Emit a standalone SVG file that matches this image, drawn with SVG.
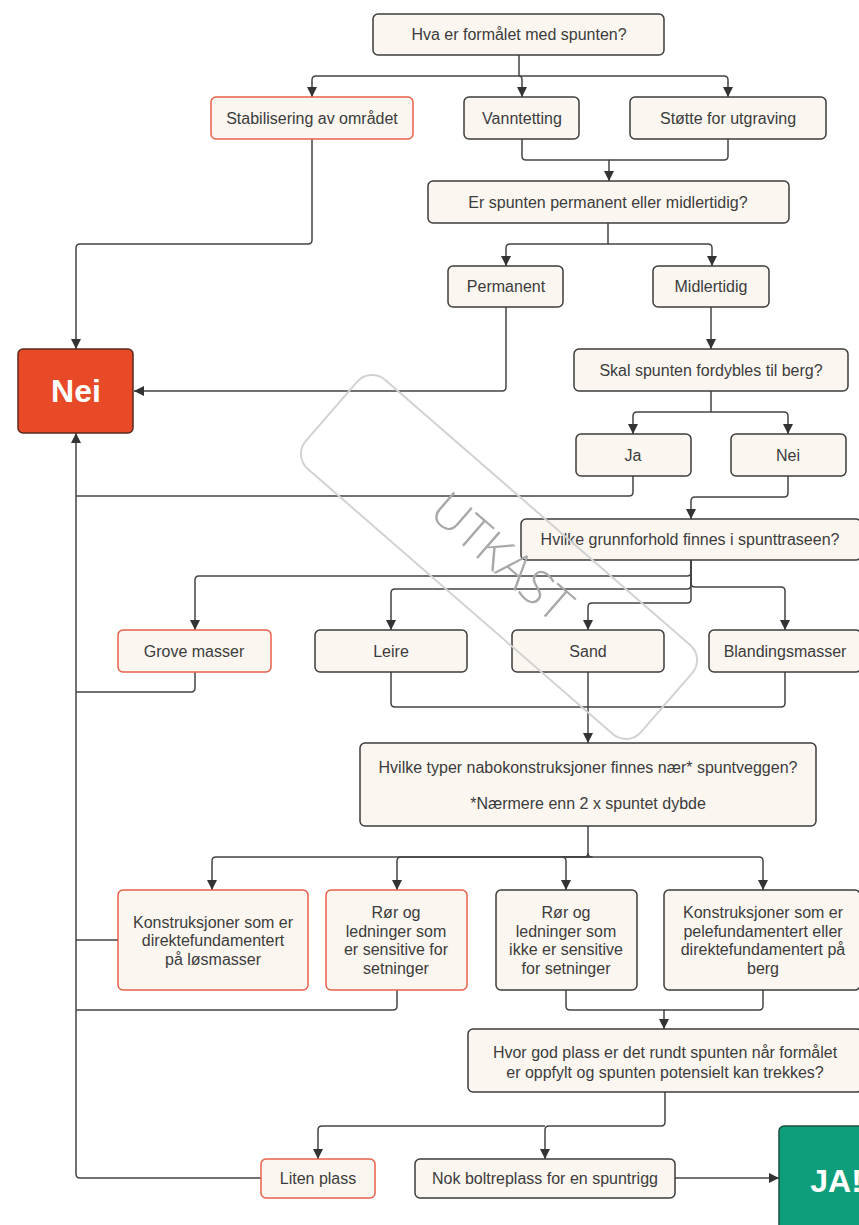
<svg xmlns="http://www.w3.org/2000/svg" width="859" height="1225" viewBox="0 0 859 1225">
<style>
.n rect{fill:#FBF6F0;stroke:#3d3d3d;stroke-width:1.5}
.n.r rect{stroke:#E8604A}
.n text{font-family:"Liberation Sans",Arial,sans-serif;font-size:16px;fill:#3c3c3c;text-anchor:middle}
.big text{font-family:"Liberation Sans",Arial,sans-serif;font-size:32px;font-weight:bold;fill:#fff;text-anchor:middle}
#edges path{fill:none;stroke:#444;stroke-width:1.5;stroke-linejoin:round}
.wm{fill:none;stroke:#d2d2d2;stroke-width:2}
.wmt{font-family:"Open Sans","Liberation Sans",sans-serif;font-weight:300;font-size:48px;fill:#a8a8a8;text-anchor:middle}
</style>
<defs>
<marker id="ah" viewBox="0 0 10 10" refX="10" refY="5" markerWidth="10" markerHeight="10" markerUnits="userSpaceOnUse" orient="auto">
<path d="M0,0 L10,5 L0,10 z" fill="#333"/>
</marker>
</defs>
<rect width="859" height="1225" fill="#fff"/>

<g id="edges">
<path d="M519,55 V76 H316 Q312,76 312,80 V97" marker-end="url(#ah)"/>
<path d="M519,76 Q522,76 522,80 V97" marker-end="url(#ah)"/>
<path d="M519,76 H724 Q728,76 728,80 V97" marker-end="url(#ah)"/>
<path d="M522,139 V156 Q522,160 526,160 H609 V181" marker-end="url(#ah)"/>
<path d="M728,139 V156 Q728,160 724,160 H609"/>
<path d="M608,223 V244 H510 Q506,244 506,248 V266" marker-end="url(#ah)"/>
<path d="M608,244 H708 Q712,244 712,248 V266" marker-end="url(#ah)"/>
<path d="M312,139 V240 Q312,244 308,244 H80 Q76,244 76,248 V349" marker-end="url(#ah)"/>
<path d="M506,307 V387 Q506,391 502,391 H134" marker-end="url(#ah)"/>
<path d="M711,307 V349" marker-end="url(#ah)"/>
<path d="M711,391 V412 H637 Q633,412 633,416 V434" marker-end="url(#ah)"/>
<path d="M711,412 H784 Q788,412 788,416 V434" marker-end="url(#ah)"/>
<path d="M633,476 V492 Q633,496 629,496 H76"/>
<path d="M788,476 V493 Q788,497 784,497 H695 Q691,497 691,501 V519" marker-end="url(#ah)"/>
<path d="M691,560 V572 Q691,576 687,576 H199 Q195,576 195,580 V630" marker-end="url(#ah)"/>
<path d="M691,560 V585 Q691,589 687,589 H395 Q391,589 391,593 V630" marker-end="url(#ah)"/>
<path d="M691,560 V599 Q691,603 687,603 H592 Q588,603 588,607 V630" marker-end="url(#ah)"/>
<path d="M691,560 V583 Q691,587 695,587 H781 Q785,587 785,591 V630" marker-end="url(#ah)"/>
<path d="M195,672 V688 Q195,692 191,692 H76"/>
<path d="M391,672 V703 Q391,707 395,707 H588"/>
<path d="M588,672 V743" marker-end="url(#ah)"/>
<path d="M785,672 V703 Q785,707 781,707 H588"/>
<path d="M588,826 V853 Q588,857 584,857 H216 Q212,857 212,861 V890" marker-end="url(#ah)"/>
<path d="M588,857 H401 Q397,857 397,861 V890" marker-end="url(#ah)"/>
<path d="M588,853 Q588,857 592,857 H562 Q566,857 566,861 V890" marker-end="url(#ah)"/>
<path d="M588,857 H759 Q763,857 763,861 V890" marker-end="url(#ah)"/>
<path d="M118,940 H76"/>
<path d="M397,990 V1006 Q397,1010 393,1010 H76"/>
<path d="M566,990 V1006 Q566,1010 570,1010 H664 V1029" marker-end="url(#ah)"/>
<path d="M763,990 V1006 Q763,1010 759,1010 H664"/>
<path d="M665,1092 V1122 Q665,1126 661,1126 H549 Q545,1126 545,1130 V1159" marker-end="url(#ah)"/>
<path d="M545,1126 H322 Q318,1126 318,1130 V1159" marker-end="url(#ah)"/>
<path d="M261,1178 H80 Q76,1178 76,1174 V433" marker-end="url(#ah)"/>
<path d="M675,1178 H779" marker-end="url(#ah)"/>
</g>

<g id="n_hva" class="n"><rect x="373" y="14" width="291" height="41" rx="5"/><text x="519" y="40">Hva er formålet med spunten?</text></g>
<g id="n_stab" class="n r"><rect x="211" y="97" width="202" height="42" rx="5"/><text x="312" y="124">Stabilisering av området</text></g>
<g id="n_vann" class="n"><rect x="464" y="97" width="115" height="42" rx="5"/><text x="522" y="124">Vanntetting</text></g>
<g id="n_stotte" class="n"><rect x="630" y="97" width="196" height="42" rx="5"/><text x="728" y="124">Støtte for utgraving</text></g>
<g id="n_perm_q" class="n"><rect x="428" y="181" width="361" height="42" rx="5"/><text x="608" y="208">Er spunten permanent eller midlertidig?</text></g>
<g id="n_perm" class="n"><rect x="448" y="266" width="115" height="41" rx="5"/><text x="506" y="292">Permanent</text></g>
<g id="n_midl" class="n"><rect x="653" y="266" width="116" height="41" rx="5"/><text x="711" y="292">Midlertidig</text></g>
<g id="n_nei" class="big"><rect x="18" y="349" width="115" height="84" rx="5" fill="#E84A27" stroke="#5a2a1e" stroke-width="1.5"/><text x="76" y="402">Nei</text></g>
<g id="n_skal" class="n"><rect x="574" y="349" width="274" height="42" rx="5"/><text x="711" y="376">Skal spunten fordybles til berg?</text></g>
<g id="n_ja" class="n"><rect x="576" y="434" width="115" height="42" rx="5"/><text x="633" y="461">Ja</text></g>
<g id="n_nei2" class="n"><rect x="731" y="434" width="115" height="42" rx="5"/><text x="788" y="461">Nei</text></g>
<g id="n_grunn" class="n"><rect x="521" y="519" width="340" height="41" rx="5"/><text x="690" y="545">Hvilke grunnforhold finnes i spunttraseen?</text></g>
<g id="n_grove" class="n r"><rect x="118" y="630" width="153" height="42" rx="5"/><text x="194" y="657">Grove masser</text></g>
<g id="n_leire" class="n"><rect x="315" y="630" width="152" height="42" rx="5"/><text x="391" y="657">Leire</text></g>
<g id="n_sand" class="n"><rect x="512" y="630" width="152" height="42" rx="5"/><text x="588" y="657">Sand</text></g>
<g id="n_bland" class="n"><rect x="709" y="630" width="152" height="42" rx="5"/><text x="785" y="657">Blandingsmasser</text></g>
<g id="n_nabo" class="n"><rect x="360" y="743" width="456" height="83" rx="5"/><text x="588" y="773">Hvilke typer nabokonstruksjoner finnes nær* spuntveggen?</text><text x="588" y="809">*Nærmere enn 2 x spuntet dybde</text></g>
<g id="n_kdir" class="n r"><rect x="118" y="890" width="190" height="100" rx="5"/><text x="213" y="928">Konstruksjoner som er</text><text x="213" y="946">direktefundamentert</text><text x="213" y="965">på løsmasser</text></g>
<g id="n_rors" class="n r"><rect x="326" y="890" width="141" height="100" rx="5"/><text x="396" y="918">Rør og</text><text x="396" y="937">ledninger som</text><text x="396" y="955">er sensitive for</text><text x="396" y="974">setninger</text></g>
<g id="n_rori" class="n"><rect x="496" y="890" width="141" height="100" rx="5"/><text x="566" y="918">Rør og</text><text x="566" y="937">ledninger som</text><text x="566" y="955">ikke er sensitive</text><text x="566" y="974">for setninger</text></g>
<g id="n_kpele" class="n"><rect x="664" y="890" width="196" height="100" rx="5"/><text x="763" y="918">Konstruksjoner som er</text><text x="763" y="937">pelefundamentert eller</text><text x="763" y="955">direktefundamentert på</text><text x="763" y="974">berg</text></g>
<g id="n_plass" class="n"><rect x="468" y="1029" width="394" height="63" rx="5"/><text x="665" y="1058">Hvor god plass er det rundt spunten når formålet</text><text x="665" y="1078">er oppfylt og spunten potensielt kan trekkes?</text></g>
<g id="n_liten" class="n r"><rect x="261" y="1159" width="114" height="39" rx="5"/><text x="318" y="1184">Liten plass</text></g>
<g id="n_nok" class="n"><rect x="415" y="1159" width="260" height="39" rx="5"/><text x="545" y="1184">Nok boltreplass for en spuntrigg</text></g>
<g id="n_jaa" class="big"><rect x="779" y="1126" width="115" height="110" rx="5" fill="#0F9E7C" stroke="#1d4f40" stroke-width="1.5"/><text x="836" y="1192">JA!</text></g>

<g id="watermark">
<rect class="wm" x="-222" y="-59" width="444" height="118" rx="20" transform="translate(499,557) rotate(41)"/>
<text class="wmt" transform="translate(502,557) rotate(41)" y="17">UTKAST</text>
</g>
</svg>
